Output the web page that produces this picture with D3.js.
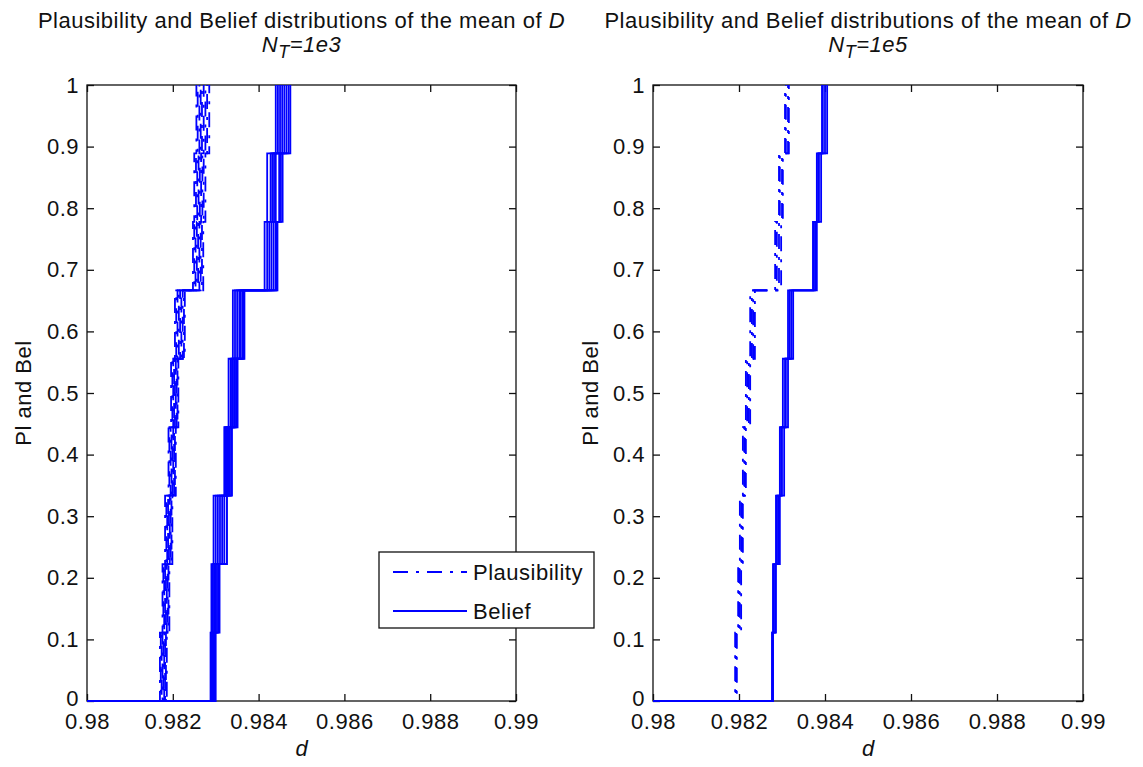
<!DOCTYPE html>
<html>
<head>
<meta charset="utf-8">
<script src="https://cdn.jsdelivr.net/npm/d3@7"></script>
<style>
  html, body { margin: 0; padding: 0; background: #fff; }
  svg text { font-family: "Liberation Sans", Arial, Helvetica, sans-serif; fill: #111; }
</style>
</head>
<body>
<svg id="chart" width="1143" height="767"></svg>
<script>
// ---------- data ----------
const xTicks = [0.98, 0.982, 0.984, 0.986, 0.988, 0.99];
const xTickLabels = ["0.98", "0.982", "0.984", "0.986", "0.988", "0.99"];
const yTicks = [0, 0.1, 0.2, 0.3, 0.4, 0.5, 0.6, 0.7, 0.8, 0.9, 1];
const yTickLabels = ["0", "0.1", "0.2", "0.3", "0.4", "0.5", "0.6", "0.7", "0.8", "0.9", "1"];
// cumulative levels reached after each focal element
const levels = [0.1111, 0.2222, 0.3333, 0.4444, 0.5556, 0.6667, 0.7778, 0.8889, 1];

const titleLine1 = "Plausibility and Belief distributions of the mean of ";
const panelNT = ["1e3", "1e5"];
const legendLabels = ["Plausibility", "Belief"];

// Left panel (N_T = 1e3): x positions of each step, one row per realisation
const plLeft = [
  [0.98170, 0.98176, 0.98182, 0.98190, 0.98196, 0.98205, 0.98247, 0.98250, 0.98255],
  [0.98172, 0.98178, 0.98185, 0.98192, 0.98199, 0.98208, 0.98250, 0.98254, 0.98258],
  [0.98174, 0.98180, 0.98187, 0.98195, 0.98201, 0.98211, 0.98253, 0.98257, 0.98262],
  [0.98176, 0.98182, 0.98189, 0.98197, 0.98203, 0.98214, 0.98256, 0.98260, 0.98265],
  [0.98178, 0.98184, 0.98191, 0.98199, 0.98205, 0.98217, 0.98259, 0.98263, 0.98268],
  [0.98180, 0.98186, 0.98193, 0.98201, 0.98207, 0.98220, 0.98262, 0.98266, 0.98272],
  [0.98182, 0.98188, 0.98195, 0.98203, 0.98209, 0.98223, 0.98265, 0.98269, 0.98276],
  [0.98184, 0.98190, 0.98197, 0.98205, 0.98211, 0.98226, 0.98268, 0.98272, 0.98280],
  [0.98186, 0.98192, 0.98199, 0.98207, 0.98213, 0.98228, 0.98271, 0.98276, 0.98285]
];
const belLeft = [
  [0.98288, 0.98290, 0.98295, 0.98320, 0.98330, 0.98340, 0.98414, 0.98420, 0.98440],
  [0.98290, 0.98293, 0.98300, 0.98322, 0.98335, 0.98345, 0.98420, 0.98428, 0.98445],
  [0.98291, 0.98296, 0.98305, 0.98325, 0.98338, 0.98350, 0.98425, 0.98432, 0.98450],
  [0.98293, 0.98298, 0.98310, 0.98328, 0.98340, 0.98355, 0.98430, 0.98436, 0.98455],
  [0.98295, 0.98300, 0.98315, 0.98330, 0.98343, 0.98358, 0.98435, 0.98440, 0.98460],
  [0.98296, 0.98303, 0.98320, 0.98333, 0.98345, 0.98362, 0.98440, 0.98448, 0.98465],
  [0.98298, 0.98306, 0.98326, 0.98336, 0.98348, 0.98365, 0.98442, 0.98452, 0.98470],
  [0.98300, 0.98309, 0.98326, 0.98338, 0.98351, 0.98367, 0.98444, 0.98456, 0.98474]
];

// Right panel (N_T = 1e5)
const plRight = [
  [0.98191, 0.98198, 0.98202, 0.98209, 0.98216, 0.98226, 0.98284, 0.98293, 0.98307],
  [0.98193, 0.98200, 0.98205, 0.98212, 0.98219, 0.98230, 0.98288, 0.98295, 0.98309],
  [0.98193, 0.98202, 0.98207, 0.98214, 0.98223, 0.98233, 0.98293, 0.98300, 0.98314],
  [0.98195, 0.98205, 0.98209, 0.98216, 0.98226, 0.98237, 0.98298, 0.98302, 0.98316]
];
const belRight = [
  [0.98277, 0.98279, 0.98286, 0.98295, 0.98302, 0.98314, 0.98372, 0.98381, 0.98393],
  [0.98277, 0.98281, 0.98288, 0.98298, 0.98307, 0.98318, 0.98374, 0.98384, 0.98395],
  [0.98279, 0.98284, 0.98291, 0.98300, 0.98309, 0.98322, 0.98377, 0.98386, 0.98400],
  [0.98279, 0.98286, 0.98295, 0.98305, 0.98314, 0.98326, 0.98381, 0.98391, 0.98405]
];

// ---------- drawing ----------
const svg = d3.select("#chart");
const BLUE = "#0000ff";
const FONT = 22;
const DASH = "15,8,3,8";

const panels = [
  { left: 87, right: 516, nt: panelNT[0], pl: plLeft, bel: belLeft, legend: true, ylabX: 23,
    dashShift: [0, 9, 21, 4, 15, 27, 11, 2, 18] },
  { left: 653, right: 1083, nt: panelNT[1], pl: plRight, bel: belRight, legend: false, ylabX: 590,
    dashShift: [0, 0, 0, 0] }
];
const axTop = 85, axBottom = 701;

panels.forEach(p => {
  const x = d3.scaleLinear().domain([xTicks[0], xTicks[xTicks.length - 1]]).range([p.left, p.right]);
  const y = d3.scaleLinear().domain([0, 1]).range([axBottom, axTop]);
  const g = svg.append("g");

  const styleAxis = sel => {
    sel.select(".domain").remove();
    sel.selectAll(".tick line").attr("stroke", "#111").attr("stroke-width", 1.3);
    sel.selectAll("text").attr("font-size", FONT).attr("fill", "#111")
      .attr("font-family", "'Liberation Sans', Arial, sans-serif").style("letter-spacing", "0.5px");
  };

  g.append("g").attr("transform", `translate(0,${axBottom})`)
    .call(d3.axisBottom(x).tickValues(xTicks).tickFormat((d, i) => xTickLabels[i]).tickSize(-7).tickPadding(12))
    .call(styleAxis);
  g.append("g").attr("transform", `translate(0,${axTop})`)
    .call(d3.axisTop(x).tickValues(xTicks).tickFormat("").tickSize(-7))
    .call(styleAxis);
  const yAx = g.append("g").attr("transform", `translate(${p.left},0)`)
    .call(d3.axisLeft(y).tickValues(yTicks).tickFormat((d, i) => yTickLabels[i]).tickSize(-7).tickPadding(8))
    .call(styleAxis);
  yAx.selectAll(".tick").filter(d => d === 0).select("text").attr("dy", "0.2em");
  g.append("g").attr("transform", `translate(${p.right},0)`)
    .call(d3.axisRight(y).tickValues(yTicks).tickFormat("").tickSize(-7))
    .call(styleAxis);

  g.append("rect").attr("x", p.left).attr("y", axTop)
    .attr("width", p.right - p.left).attr("height", axBottom - axTop)
    .attr("fill", "none").attr("stroke", "#111").attr("stroke-width", 1.3);

  const line = d3.line().x(d => x(d[0])).y(d => y(d[1])).curve(d3.curveStepAfter);
  const toPts = steps => [[xTicks[0], 0]].concat(steps.map((s, i) => [s, levels[i]]));

  p.bel.forEach(c => {
    g.append("path").attr("d", line(toPts(c))).attr("fill", "none")
      .attr("stroke", BLUE).attr("stroke-width", 1.8);
  });
  p.pl.forEach((c, i) => {
    g.append("path").attr("d", line(toPts(c))).attr("fill", "none")
      .attr("stroke", BLUE).attr("stroke-width", 1.8).attr("stroke-dasharray", DASH)
      .attr("stroke-dashoffset", p.dashShift[i % p.dashShift.length]);
  });

  const cx = (p.left + p.right) / 2;
  const t1 = g.append("text").attr("x", cx).attr("y", 28).attr("text-anchor", "middle")
    .attr("font-size", FONT).style("letter-spacing", "0.5px");
  t1.append("tspan").text(titleLine1);
  t1.append("tspan").attr("font-style", "italic").text("D");
  const t2 = g.append("text").attr("x", cx).attr("y", 52).attr("text-anchor", "middle")
    .attr("font-size", FONT).attr("font-style", "italic").style("letter-spacing", "0.5px");
  t2.append("tspan").text("N");
  t2.append("tspan").attr("dy", 6).attr("font-size", 18).text("T");
  t2.append("tspan").attr("dy", -6).text("=" + p.nt);

  g.append("text").attr("x", cx).attr("y", 756).attr("text-anchor", "middle")
    .attr("font-size", FONT).attr("font-style", "italic").text("d");
  g.append("text").attr("transform", `translate(${p.ylabX + 8},393) rotate(-90)`)
    .attr("text-anchor", "middle").attr("font-size", FONT).style("letter-spacing", "0.5px").text("Pl and Bel");

  if (p.legend) {
    const lg = svg.append("g");
    lg.append("rect").attr("x", 379).attr("y", 552).attr("width", 215).attr("height", 76)
      .attr("fill", "#fff").attr("stroke", "#111").attr("stroke-width", 1.3);
    const rows = [{ y: 572, dash: DASH }, { y: 611, dash: null }];
    rows.forEach((r, i) => {
      const l = lg.append("line").attr("x1", 393).attr("x2", 467).attr("y1", r.y).attr("y2", r.y)
        .attr("stroke", BLUE).attr("stroke-width", 1.8);
      if (r.dash) l.attr("stroke-dasharray", r.dash);
      lg.append("text").attr("x", 473).attr("y", r.y + 8).attr("font-size", FONT)
        .style("letter-spacing", "0.5px").text(legendLabels[i]);
    });
  }
});
</script>
</body>
</html>
